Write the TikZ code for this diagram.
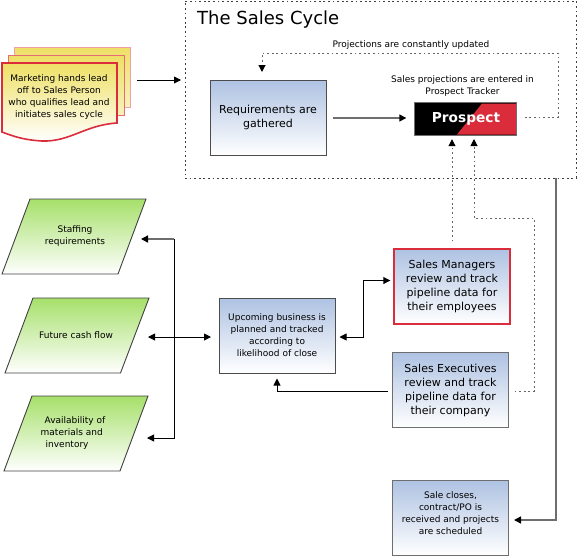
\documentclass[tikz,border=0pt]{standalone}
\usepackage{fontspec}
\setmainfont{DejaVu Sans}
\usetikzlibrary{arrows.meta,calc}
\definecolor{bluetop}{HTML}{AEC2E2}
\definecolor{greentop}{HTML}{A6E06A}
\definecolor{yellowtop}{HTML}{EEE066}
\definecolor{redc}{HTML}{DA2C3A}
\definecolor{greyc}{HTML}{6E6E6E}
\tikzset{
  x=1pt,y=-1pt,
  tip/.style={-{Triangle[length=7pt,width=7pt,color=black]}},
  tips/.style={{Triangle[length=7pt,width=7pt,color=black]}-{Triangle[length=7pt,width=7pt,color=black]}},
  link/.style={line width=0.9pt,draw=black},
  glink/.style={line width=1.4pt,draw=greyc},
  dots/.style={line width=1pt,draw=black!60,dash pattern=on 1.8pt off 2.8pt},
  bluebox/.style={rectangle,draw=greyc,line width=1pt,top color=bluetop,bottom color=white,minimum width=116pt,minimum height=75pt,inner sep=0pt,align=center},
  bigtext/.style={font=\fontsize{11}{14}\selectfont},
  para/.style={draw=black!75,line width=0.9pt,top color=greentop,bottom color=white},
  label/.style={inner sep=0pt,align=center,font=\fontsize{9}{12}\selectfont},
}
\begin{document}
\begin{tikzpicture}
\useasboundingbox (0,0) rectangle (577,557);
% sales cycle frame
\node[draw=black!75,dash pattern=on 1.8pt off 2.8pt,line width=1pt,rectangle,minimum width=391pt,minimum height=177pt,inner sep=0pt] (cycle) at (380.5,89.5) {};
\node[inner sep=0pt,anchor=west,font=\fontsize{18}{20}\selectfont] (title) at (197,19.5) {The Sales Cycle};
% stacked sheets
\draw[draw=redc!45,line width=1pt,top color=yellowtop,bottom color=yellowtop!45] (14,47) rectangle (130,107);
\draw[draw=redc!70,line width=1pt,top color=yellowtop,bottom color=yellowtop!45] (8,55) rectangle (124,115);
\draw[draw=redc,line width=1.6pt,top color=yellowtop,bottom color=white]
  (2,63) -- (117,63) -- (117,123) .. controls (85,125) and (70,142) .. (42,141) .. controls (25,140) and (15,137) .. (2,132) -- cycle;
\node[label] (lead) at (59,97) {Marketing hands lead\\off to Sales Person\\who qualifies lead and\\initiates sales cycle};
% boxes
\node[bluebox,draw=black!70,bigtext] (req) at (268,117.5) {Requirements are\\gathered};
\node[rectangle,fill=black,minimum width=102pt,minimum height=32pt,inner sep=0pt] (prospect) at (465.5,119) {};
\fill[redc] (482,103.5) -- (516.5,103.5) -- (516.5,134.5) -- (457,134.5) -- cycle;
\draw[greyc,line width=1pt] (prospect.north west) rectangle (prospect.south east);
\node[inner sep=0pt,text=white,font=\bfseries\fontsize{13.7}{16}\selectfont] (prospecttext) at (466,119) {Prospect};
\node[label] (entered) at (462.5,86) {Sales projections are entered in\\Prospect Tracker};
\node[label] (updated) at (411,45) {Projections are constantly updated};
\node[bluebox,draw=redc,line width=1.4pt,bigtext] (mgr) at (452,286.5) {Sales Managers\\review and track\\pipeline data for\\their employees};
\node[bluebox,bigtext] (exec) at (450.5,390) {Sales Executives\\review and track\\pipeline data for\\their company};
\node[bluebox,label] (close) at (450.5,517.5) {Sale closes,\\contract/PO is\\received and projects\\are scheduled\\[-4pt]};
\node[bluebox,draw=black!70,label] (plan) at (277,335.5) {Upcoming business is\\planned and tracked\\according to\\likelihood of close};
% parallelograms
\path[para] (30,199) -- (146,199) -- (118,274) -- (2,274) -- cycle;
\node[label] (staff) at (75,236) {Staffing\\requirements};
\path[para] (33,298) -- (149,298) -- (120.5,373) -- (5,373) -- cycle;
\node[label] (cash) at (76,335) {Future cash flow};
\path[para] (32,396) -- (148,396) -- (120,471) -- (4,471) -- cycle;
\node[label,align=left] (avail) at (73,433) {\hspace*{4pt}Availability of\\materials and\\\hspace*{5pt}inventory};
% connector ends
\coordinate (jcash) at (174,337);
\coordinate (jtop) at (174,239);
\coordinate (jbot) at (174,438);
\coordinate (stafftip) at (141,239);
\coordinate (availtip) at (147,438);
\coordinate (cashtip) at (148,337);
\coordinate (plantip) at (211,337);
\coordinate (leadstart) at (137,80);
\coordinate (cycletip) at (181,80);
% connectors
\draw[link,tip] (leadstart) -- (cycletip);
\draw[glink,tip] ($(req.east)+(6,0.5)$) -- ($(prospect.west)+(-8,-1)$);
\draw[dots,tip] ($(prospect.east)+(8,-2)$) -- (558,117) -- (558,53) -- (262,53) -- (262,72);
\draw[dots,tip] ($(mgr.north)+(0,-7)$) -- ($(prospect.south -| mgr.north)+(0,4)$);
\draw[dots,tip] ($(exec.east)+(5.5,1)$) -- (534,391) -- (534,218) -- (474,218) -- (474,139);
\draw[link,tip] ($(exec.west)+(-4,1)$) -- (277,391) -- ($(plan.south)+(0,5)$);
\draw[link,tips] ($(plan.east)+(4,1.5)$) -- (363,337) -- (363,280.5) -- ($(mgr.west)+(-3,-6)$);
\draw[link,tips] (cashtip) -- (plantip);
\draw[link,tip] (jcash) -- (jbot) -- (availtip);
\draw[link] (jcash) -- (jtop);
\draw[glink,tip] (jtop) -- (stafftip);
\draw[glink,tip] (556,178) -- (556,520) -- ($(close.east)+(5,2.5)$);
\end{tikzpicture}
\end{document}
